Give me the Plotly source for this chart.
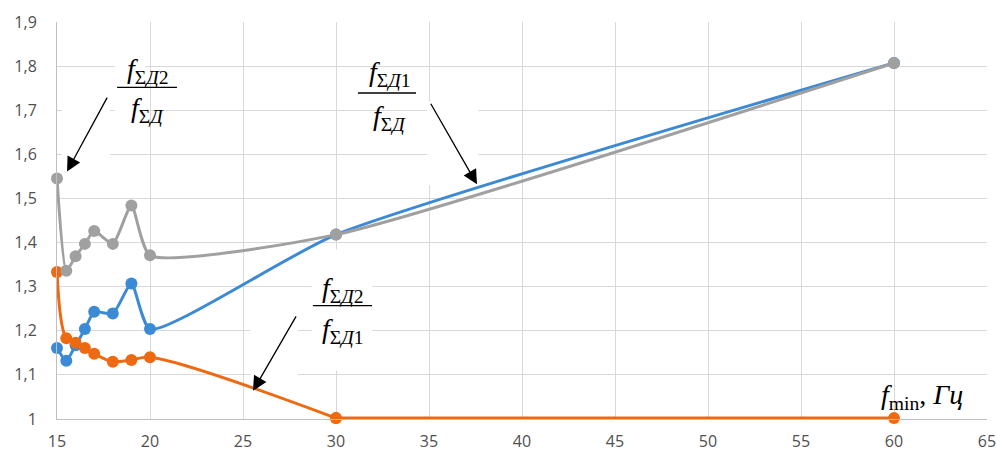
import plotly.graph_objects as go

# Data (x = f_min, Hz)
x_vals = [15, 15.5, 16, 16.5, 17, 18, 19, 20, 30, 60]
ratio_d1_d = [1.161, 1.132, 1.167, 1.204, 1.243, 1.239, 1.307, 1.204, 1.418, 1.807]   # blue
ratio_d2_d1 = [1.333, 1.183, 1.173, 1.161, 1.148, 1.130, 1.134, 1.140, 1.002, 1.002]  # orange
ratio_d2_d = [1.545, 1.336, 1.369, 1.397, 1.426, 1.397, 1.484, 1.371, 1.418, 1.807]   # gray

x_ticks = [15, 20, 25, 30, 35, 40, 45, 50, 55, 60, 65]
y_ticks = [1, 1.1, 1.2, 1.3, 1.4, 1.5, 1.6, 1.7, 1.8, 1.9]

BLUE = "#3C8AD6"
ORANGE = "#EE6A12"
GRAY = "#A0A0A0"

fig = go.Figure()

def add_series(xs, ys, col, shape, smooth=1.0):
    line = dict(color=col, width=3, shape=shape)
    if shape == "spline":
        line["smoothing"] = smooth
    fig.add_trace(go.Scatter(
        x=xs, y=ys, mode="lines+markers", line=line,
        marker=dict(color=col, size=12), cliponaxis=False,
        showlegend=False, hoverinfo="x+y"))

i30 = x_vals.index(30)
# blue
add_series(x_vals, ratio_d1_d, BLUE, "spline", 0.55)
# orange: smooth part up to 30, straight tail 30-60
add_series(x_vals[:i30 + 1], ratio_d2_d1[:i30 + 1], ORANGE, "spline", 1.0)
add_series(x_vals[i30:], ratio_d2_d1[i30:], ORANGE, "linear")
# gray
add_series(x_vals, ratio_d2_d, GRAY, "spline", 0.55)

serif = "Liberation Serif"
annotations = []
shapes = []

# white boxes (behind traces, above grid)
for x0, x1, y0, y1 in [(15.27, 17.85, 1.559, 1.736),
                       (34.9, 37.65, 1.53, 1.72),
                       (25.4, 27.96, 1.061, 1.243),
                       (28.7, 31.95, 1.11, 1.384),
                       (18.1, 19.75, 1.66, 1.80)]:
    shapes.append(dict(type="rect", xref="x", yref="y", x0=x0, x1=x1, y0=y0, y1=y1,
                       fillcolor="white", line=dict(width=0), layer="between"))

def fraction(xc, y_num, y_bar, y_den, x0, x1, num, den):
    for yy, t in [(y_num, num), (y_den, den)]:
        annotations.append(dict(x=xc, y=yy, xref="x", yref="y", text=t, showarrow=False,
                                font=dict(family=serif, size=28, color="black"),
                                xanchor="center", yanchor="middle"))
    shapes.append(dict(type="line", xref="x", yref="y", x0=x0, x1=x1, y0=y_bar, y1=y_bar,
                       line=dict(color="black", width=1.3), layer="above"))

def fsub(s):
    return "<i>f</i><sub>Σ<i>Д</i>" + s + "</sub>"

fraction(19.84, 1.790, 1.752, 1.702, 18.23, 21.45, fsub("2"), fsub(""))
fraction(32.85, 1.784, 1.739, 1.684, 31.18, 34.3, fsub("1"), fsub(""))
fraction(30.35, 1.294, 1.257, 1.200, 28.76, 31.94, fsub("2"), fsub("1"))

annotations.append(dict(x=59.2, y=1.05, xref="x", yref="y",
                        text="<i>f</i><sub>min</sub>, <i>Гц</i>", showarrow=False,
                        font=dict(family=serif, size=28, color="black"), xanchor="left", yanchor="middle"))

# arrows
for (hx, hy, tx, ty) in [(15.54, 1.561, 17.74, 1.732),
                         (37.58, 1.532, 35.05, 1.718),
                         (25.54, 1.064, 27.90, 1.236)]:
    annotations.append(dict(x=hx, y=hy, ax=tx, ay=ty, xref="x", yref="y", axref="x", ayref="y",
                            text="", showarrow=True, arrowhead=2, arrowsize=2.2, arrowwidth=1.3,
                            arrowcolor="black", standoff=0, startstandoff=0))

tickfont = dict(family="Open Sans", size=16, color="#505050")
fig.update_layout(
    width=997, height=457,
    margin=dict(l=57, r=10, t=22, b=38, autoexpand=False),
    paper_bgcolor="white", plot_bgcolor="white",
    separators=", ",
    annotations=annotations, shapes=shapes,
    xaxis=dict(range=[15, 65], tickvals=x_ticks, showgrid=True, gridcolor="#D9D9D9", gridwidth=1,
               zeroline=False, showline=True, linecolor="#BFBFBF", linewidth=1, automargin=False,
               tickfont=tickfont, ticks="", ticklabelstandoff=8),
    yaxis=dict(range=[1, 1.9], tickvals=y_ticks, showgrid=True, gridcolor="#D9D9D9", gridwidth=1,
               zeroline=False, showline=True, linecolor="#BFBFBF", linewidth=1, automargin=False,
               tickfont=tickfont, ticks="", ticklabelstandoff=16),
)

fig.write_html("out.html", config={"displayModeBar": False},
               post_script="document.body.style.margin='0';document.body.style.overflow='hidden';")
